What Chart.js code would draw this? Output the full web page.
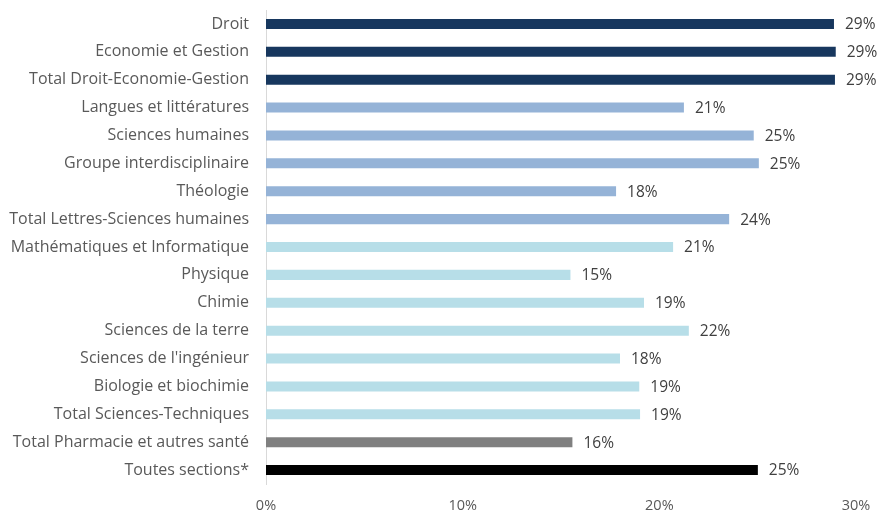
<!DOCTYPE html>
<html>
<head>
<meta charset="utf-8">
<script src="https://cdn.jsdelivr.net/npm/chart.js"></script>
<style>
html,body{margin:0;padding:0;background:#fff;}
#wrap{width:878px;height:510px;position:relative;}
</style>
</head>
<body>
<div id="wrap"><canvas id="c" width="878" height="510"></canvas></div>
<script>
const categories = [
  "Droit","Economie et Gestion","Total Droit-Economie-Gestion",
  "Langues et littératures","Sciences humaines","Groupe interdisciplinaire","Théologie","Total Lettres-Sciences humaines",
  "Mathématiques et Informatique","Physique","Chimie","Sciences de la terre","Sciences de l'ingénieur","Biologie et biochimie","Total Sciences-Techniques",
  "Total Pharmacie et autres santé","Toutes sections*"
];
const values = [28.88, 28.97, 28.93, 21.25, 24.8, 25.06, 17.8, 23.55, 20.7, 15.48, 19.22, 21.5, 18.0, 18.98, 19.02, 15.58, 25.01];
const valueLabels = ["29%","29%","29%","21%","25%","25%","18%","24%","21%","15%","19%","22%","18%","19%","19%","16%","25%"];
const groups = ["deg","deg","deg","lsh","lsh","lsh","lsh","lsh","st","st","st","st","st","st","st","ph","all"];
const groupColors = {deg:"#17375E", lsh:"#95B3D7", st:"#B7DEE8", ph:"#808080", all:"#000000"};
const xTicks = [0, 10, 20, 30];

const FONT = "'Open Sans', sans-serif";

const dataLabelPlugin = {
  id: 'dataLabels',
  afterDatasetsDraw(chart) {
    const ctx = chart.ctx;
    const meta = chart.getDatasetMeta(0);
    ctx.save();
    ctx.font = "15.5px " + FONT;
    ctx.fillStyle = "#404040";
    ctx.textAlign = "left";
    ctx.textBaseline = "middle";
    meta.data.forEach((bar, i) => {
      ctx.fillText(valueLabels[i], bar.x + 11, bar.y + 1);
    });
    ctx.restore();
  }
};

new Chart(document.getElementById('c'), {
  type: 'bar',
  data: {
    labels: categories,
    datasets: [{
      data: values,
      backgroundColor: groups.map(g => groupColors[g]),
      barPercentage: 0.72,
      categoryPercentage: 0.5
    }]
  },
  options: {
    indexAxis: 'y',
    responsive: false,
    animation: false,
    devicePixelRatio: 1,
    layout: { padding: { top: 10, right: 22, left: 0, bottom: 0 } },
    plugins: { legend: { display: false }, tooltip: { enabled: false } },
    scales: {
      x: {
        min: 0, max: 30,
        afterBuildTicks(scale) { scale.ticks = xTicks.map(v => ({ value: v })); },
        afterFit(scale) { scale.height = 26; scale.paddingLeft = 0; scale.paddingRight = 0; },
        grid: { display: false, drawTicks: false },
        border: { display: false },
        ticks: {
          padding: 13,
          color: "#595959",
          font: { family: FONT, size: 14.5 },
          callback: v => v + "%"
        }
      },
      y: {
        afterFit(scale) { scale.width = 266; scale.paddingTop = 0; scale.paddingBottom = 0; },
        grid: { display: false, drawTicks: false },
        border: { display: true, color: "#D9D9D9", width: 1 },
        ticks: {
          padding: 17,
          color: "#595959",
          font: { family: FONT, size: 16 },
          autoSkip: false
        }
      }
    }
  },
  plugins: [dataLabelPlugin]
});
</script>
</body>
</html>
